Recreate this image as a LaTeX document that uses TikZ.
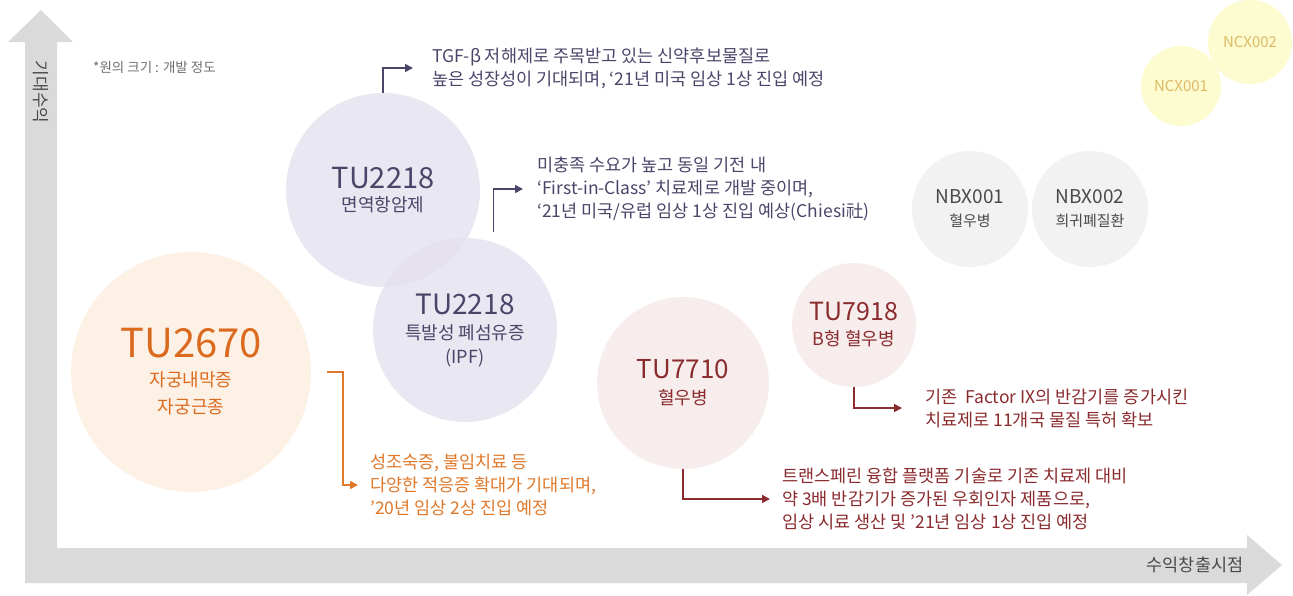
\documentclass[tikz,border=0pt]{standalone}
\usepackage{fontspec}
\setmainfont{Noto Sans CJK KR}
\usetikzlibrary{arrows.meta}
\definecolor{axisgray}{HTML}{DADADA}
\definecolor{orangetxt}{HTML}{DC6A1E}
\definecolor{orangeline}{HTML}{E0782A}
\definecolor{orangefill}{HTML}{FDF1E6}
\definecolor{purpletxt}{HTML}{4B4569}
\definecolor{purplefill}{HTML}{E4E1ED}
\definecolor{redtxt}{HTML}{8A2B2E}
\definecolor{pinkfill}{HTML}{F8EDED}
\definecolor{grayfill}{HTML}{F2F2F2}
\definecolor{graytxt}{HTML}{4A4A4A}
\definecolor{yellowfill}{HTML}{FDFBD0}
\definecolor{yellowtxt}{HTML}{DDBB66}

\tikzset{
  pipe/.style={circle, inner sep=0pt, align=center},
  note/.style={anchor=west, inner sep=0pt, align=left, font=\fontsize{17.5}{23}\selectfont},
  link/.style={line width=1.6pt, -{Triangle[length=8pt,width=8pt]}},
}

\begin{document}
\begin{tikzpicture}[x=1pt,y=-1pt]
\useasboundingbox (0,0) rectangle (1293,595);
\fill[axisgray] (25,583) -- (25,42) -- (8,42) -- (41,10) -- (73,42) -- (57,42) -- (57,548)
  -- (1247,548) -- (1247,535) -- (1282,565) -- (1247,595) -- (1247,583) -- cycle;
\node[rotate=-90, text=graytxt, font=\fontsize{17}{17}\selectfont] (ylab) at (41,92) {기대수익};
\node[text=graytxt, font=\fontsize{17.5}{17.5}\selectfont] (xlab) at (1195,565) {수익창출시점};
\node[anchor=west, inner sep=0pt, text=graytxt!80, font=\fontsize{13.5}{13.5}\selectfont] (legend) at (93,67) {*원의 크기 : 개발 정도};

\node[pipe, fill=orangefill, minimum size=240pt, text=orangetxt, font=\fontsize{18}{27}\selectfont] (endo) at (191,372)
  {\fontsize{40}{40}\selectfont TU2670\\[2pt]자궁내막증\\자궁근종};
\node[pipe, fill=purplefill, fill opacity=0.8, text opacity=1, minimum size=194pt, text=purpletxt,
  font=\fontsize{18}{23}\selectfont] (io) at (383,190)
  {\fontsize{29}{29}\selectfont TU2218\\면역항암제};
\node[pipe, fill=purplefill, fill opacity=0.8, text opacity=1, minimum size=184pt, text=purpletxt,
  font=\fontsize{18}{24}\selectfont] (ipf) at (465,330)
  {\fontsize{28}{28}\selectfont TU2218\\[1pt]특발성 폐섬유증\\(IPF)};
\node[pipe, fill=pinkfill, minimum size=172pt, text=redtxt, font=\fontsize{18}{26}\selectfont] (hemo) at (683,383)
  {\fontsize{26}{26}\selectfont TU7710\\혈우병};
\node[pipe, fill=pinkfill, minimum size=124pt, text=redtxt, font=\fontsize{18}{25}\selectfont] (hemob) at (854,325)
  {\fontsize{25}{25}\selectfont TU7918\\B형 혈우병};
\node[pipe, fill=grayfill, minimum size=116pt, text=graytxt, font=\fontsize{15}{23}\selectfont] (nbxa) at (970,209)
  {\fontsize{19}{19}\selectfont NBX001\\혈우병};
\node[pipe, fill=grayfill, minimum size=116pt, text=graytxt, font=\fontsize{15}{23}\selectfont] (nbxb) at (1090,209)
  {\fontsize{19}{19}\selectfont NBX002\\희귀폐질환};
\node[pipe, fill=yellowfill, minimum size=80pt, text=yellowtxt, font=\fontsize{15}{15}\selectfont] (ncxa) at (1181,86) {NCX001};
\node[pipe, fill=yellowfill, minimum size=84pt, text=yellowtxt, font=\fontsize{15}{15}\selectfont] (ncxb) at (1250,42) {NCX002};

\node[note, text=purpletxt] (iotxt) at (432,68)
  {TGF-β 저해제로 주목받고 있는 신약후보물질로\\높은 성장성이 기대되며, ‘21년 미국 임상 1상 진입 예정};
\node[note, text=purpletxt] (ipftxt) at (537,189)
  {미충족 수요가 높고 동일 기전 내\\‘First-in-Class’ 치료제로 개발 중이며,\\‘21년 미국/유럽 임상 1상 진입 예상(Chiesi社)};
\node[note, text=orangeline] (endotxt) at (370,485)
  {성조숙증, 불임치료 등\\다양한 적응증 확대가 기대되며,\\’20년 임상 2상 진입 예정};
\node[note, text=redtxt] (hemobtxt) at (925,408)
  {기존 \ Factor IX의 반감기를 증가시킨\\치료제로 11개국 물질 특허 확보};
\node[note, text=redtxt] (hemotxt) at (782,499)
  {트랜스페린 융합 플랫폼 기술로 기존 치료제 대비\\약 3배 반감기가 증가된 우회인자 제품으로,\\임상 시료 생산 및 ’21년 임상 1상 진입 예정};

\draw[link, purpletxt] (io.north) |- ([xshift=-19pt]iotxt.west);
\draw[link, purpletxt] ([yshift=10pt]ipf.72) |- ([xshift=-14pt]ipftxt.west);
\draw[link, orangeline] ([xshift=16pt]endo.east) -- ++(16,0) |- ([xshift=-12pt]endotxt.west);
\draw[link, redtxt] (hemob.south) |- ([xshift=-23pt]hemobtxt.west);
\draw[link, redtxt] (hemo.south) |- ([xshift=-12pt]hemotxt.west);
\end{tikzpicture}
\end{document}
